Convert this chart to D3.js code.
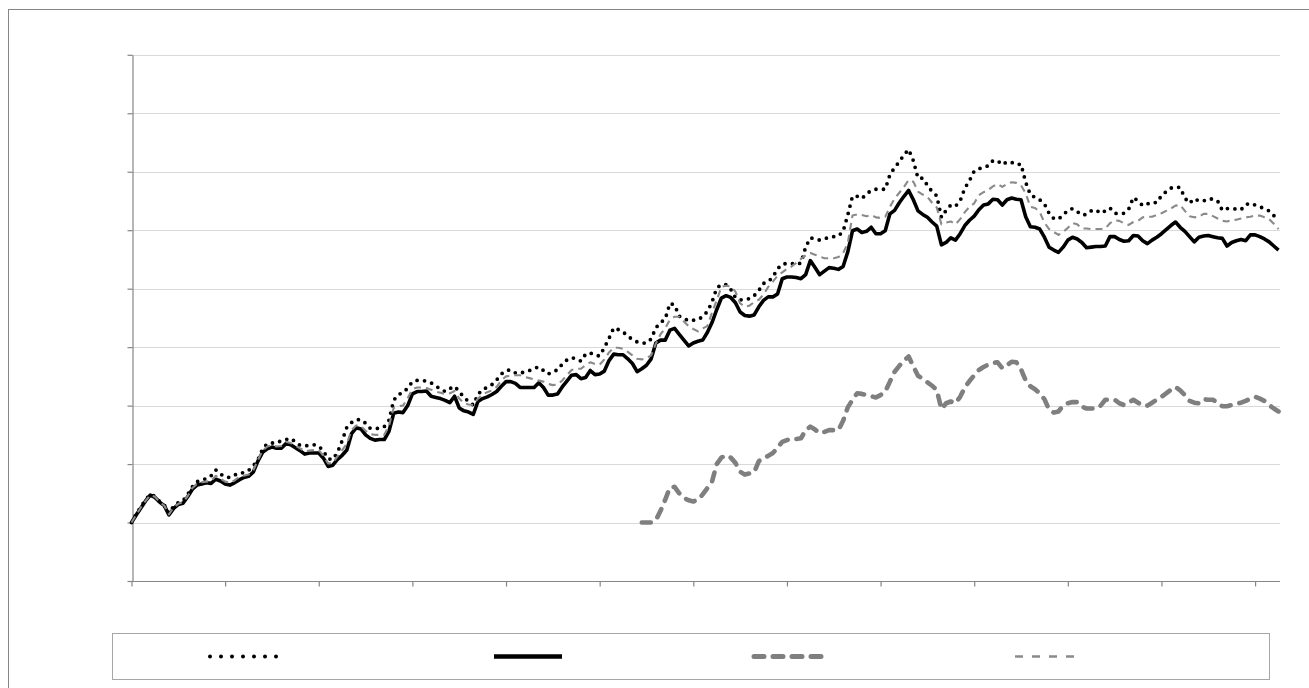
<!DOCTYPE html>
<html>
<head>
<meta charset="utf-8">
<style>
  html, body { margin: 0; padding: 0; background: #fff; overflow: hidden; }
  svg { display: block; }
</style>
</head>
<body>
<div id="chart"></div>
<script src="https://cdn.jsdelivr.net/npm/d3@7/dist/d3.min.js"></script>
<script>
const WIDTH = 1309;
const HEIGHT = 688;

// index values, base 100 at the first period
const highValues = [
  100,114,127,139,148,145,136,130,116,128,
  134,137,148,161,170,173,175,180,190,183,
  178,177,181,185,185,189,197,207,226,235,
  236,236,240,242,244,238,232,231,232,233,
  231,222,209,208,220,240,263,271,276,276,
  270,261,261,261,264,275,309,319,322,330,
  341,343,343,342,339,333,329,324,329,333,
  324,314,307,301,319,328,331,336,344,354,
  360,361,356,355,358,360,364,366,360,354,
  358,361,371,378,382,380,376,388,390,386,
  385,399,415,433,430,426,419,413,409,407,
  407,414,433,442,448,475,472,453,449,445,
  446,447,452,461,477,501,507,507,499,485,
  481,481,483,488,497,509,512,520,534,542,
  543,543,541,544,571,587,585,583,585,588,
  589,590,598,626,658,658,654,662,668,670,
  670,670,695,707,717,729,738,719,689,689,
  677,666,659,622,634,643,641,650,672,685,
  701,705,708,710,719,719,712,717,716,712,
  713,682,661,656,652,645,629,620,619,626,
  634,637,632,626,627,633,635,629,633,638,
  629,628,629,636,656,650,642,645,648,647,
  659,666,672,674,673,655,646,654,650,650,
  654,653,650,634,637,637,636,635,644,646,
  643,640,637,633,625,621
];

const mainValues = [
  100,113,125,137,147,143,135,129,113,124,
  131,133,144,157,164,166,168,167,174,171,
  166,164,168,173,177,179,186,205,220,226,
  229,227,227,235,233,228,223,217,219,219,
  219,210,196,198,208,215,224,252,262,260,
  250,244,241,242,242,256,287,289,288,300,
  320,324,324,325,316,314,312,309,305,316,
  296,291,289,285,307,312,315,319,324,333,
  341,341,338,331,331,331,331,339,331,318,
  318,320,332,342,352,353,346,348,360,353,
  354,359,377,388,387,387,380,372,358,363,
  369,380,407,412,412,429,432,422,412,402,
  407,410,412,425,442,464,484,488,485,476,
  460,454,453,455,469,480,486,486,491,517,
  520,520,519,517,524,548,536,524,530,536,
  535,533,538,563,599,602,596,598,605,594,
  594,599,628,634,647,658,668,652,633,627,
  622,614,607,575,579,587,583,594,608,617,
  624,635,643,645,653,652,643,652,655,653,
  652,623,606,605,602,588,571,566,562,571,
  583,588,585,579,570,571,572,572,573,589,
  589,584,581,582,591,590,582,577,583,588,
  594,601,608,614,605,598,589,580,588,590,
  591,589,587,586,573,579,582,584,582,592,
  592,589,585,580,573,566
];

// second series starts later, at period 109
const launchStart = 109;
const launchValues = [
  100,100,100,
  104,120,139,160,161,150,142,138,
  136,139,148,159,170,200,211,215,211,202,
  187,182,184,186,205,210,214,219,228,238,
  241,244,243,244,258,264,259,253,255,258,
  258,258,274,297,310,321,320,318,316,314,
  318,324,341,358,368,377,384,367,351,346,
  340,334,327,294,304,307,304,315,331,342,
  352,361,366,370,373,374,364,369,375,374,
  362,343,333,328,321,311,293,288,290,300,
  304,306,306,298,295,295,295,300,310,310,
  310,304,301,305,310,305,300,300,305,310,
  315,321,327,332,326,318,308,305,304,311,
  310,310,305,299,299,301,303,305,308,312,
  315,312,308,301,295,290
];

const midValues = [
  100,113,126,137,147,144,135,129,114,126,
  132,135,145,159,166,169,170,171,180,175,
  170,168,172,178,180,182,189,207,223,230,
  232,230,231,238,236,232,227,222,223,224,
  224,214,201,202,213,224,235,258,266,265,
  257,251,250,250,250,266,296,299,300,313,
  328,331,331,330,327,324,322,320,321,325,
  312,304,302,301,312,319,323,326,332,343,
  350,351,352,352,349,347,345,343,341,337,
  335,336,343,352,361,363,363,369,374,371,
  370,379,391,399,399,397,392,386,380,379,
  381,386,406,422,432,447,452,452,444,436,
  431,427,432,436,459,480,503,505,504,495,
  475,469,471,477,481,490,503,512,522,528,
  534,538,544,551,557,561,558,555,552,552,
  552,554,561,578,625,627,626,624,626,622,
  621,623,640,654,664,674,686,683,666,661,
  657,647,639,610,613,615,610,619,631,640,
  646,660,665,669,675,679,674,679,682,681,
  677,663,640,638,631,613,602,597,592,597,
  604,612,610,603,603,602,602,602,603,612,
  617,616,612,609,614,616,622,623,623,626,
  629,633,637,642,643,633,624,622,623,628,
  628,624,620,616,615,617,618,620,622,623,
  625,625,622,619,611,602
];

const periods = d3.range(mainValues.length);
const xTickStep = 20;
const yTicks = [0, 100, 200, 300, 400, 500, 600, 700, 800, 900];

const series = [
  { key: 'high', points: highValues.map((v, i) => [periods[i], v]),
    stroke: '#000', width: 3.8, dash: '0 7.5', cap: 'round',
    legendDash: '0 11', legendWidth: 4 },
  { key: 'main', points: mainValues.map((v, i) => [periods[i], v]),
    stroke: '#000', width: 3.6, dash: null, cap: 'butt',
    legendDash: null, legendWidth: 4.6 },
  { key: 'launch', points: launchValues.map((v, i) => [periods[launchStart + i], v]),
    stroke: '#7f7f7f', width: 4.6, dash: '9 9', cap: 'round',
    legendDash: '10 9', legendWidth: 5 },
  { key: 'mid', points: midValues.map((v, i) => [periods[i], v]),
    stroke: '#8a8a8a', width: 2.1, dash: '7 5', cap: 'butt',
    legendDash: '8 9', legendWidth: 2.4 },
];

const svg = d3.select('#chart').append('svg')
  .attr('width', WIDTH)
  .attr('height', HEIGHT);

svg.append('rect')
  .attr('width', WIDTH)
  .attr('height', HEIGHT)
  .attr('fill', '#fff');

// chart area border, runs past the right and bottom edge
svg.append('rect')
  .attr('x', 8.5)
  .attr('y', 9.5)
  .attr('width', 1400)
  .attr('height', 800)
  .attr('fill', 'none')
  .attr('stroke', '#868686');

const plot = { left: 131.5, right: 1278.5, top: 54.8, bottom: 581 };

const x = d3.scaleLinear()
  .domain([0, periods.length - 1])
  .range([plot.left, plot.right]);

const y = d3.scaleLinear()
  .domain([0, 900])
  .range([plot.bottom, plot.top]);

// gridlines
svg.append('g')
  .selectAll('line')
  .data(yTicks.slice(1))
  .join('line')
  .attr('x1', plot.left)
  .attr('x2', plot.right + 1.5)
  .attr('y1', d => Math.round(y(d)) + 0.5)
  .attr('y2', d => Math.round(y(d)) + 0.5)
  .attr('stroke', '#d9d9d9')
  .attr('stroke-width', 1.2);

const xAxis = svg.append('g')
  .attr('transform', `translate(0,${Math.round(plot.bottom) + 0.5})`)
  .call(d3.axisBottom(x)
    .tickValues(periods.filter(p => p % xTickStep === 0))
    .tickFormat('')
    .tickSize(5)
    .tickSizeOuter(0));

const yAxis = svg.append('g')
  .attr('transform', `translate(${Math.round(plot.left) + 0.5},0)`)
  .call(d3.axisLeft(y)
    .tickValues(yTicks)
    .tickFormat('')
    .tickSize(5)
    .tickSizeOuter(0));

[xAxis, yAxis].forEach(g => {
  g.selectAll('path, line').attr('stroke', '#868686').attr('stroke-width', 1.2);
});
xAxis.select('path.domain').attr('d', `M${plot.left},0H${plot.right + 1.5}`);

const line = d3.line()
  .x(d => x(d[0]))
  .y(d => y(d[1]))
  .curve(d3.curveLinear);

svg.append('g')
  .selectAll('path')
  .data(series)
  .join('path')
  .attr('d', d => line(d.points))
  .attr('fill', 'none')
  .attr('stroke', d => d.stroke)
  .attr('stroke-width', d => d.width)
  .attr('stroke-dasharray', d => d.dash)
  .attr('stroke-linecap', d => d.cap)
  .attr('stroke-linejoin', 'round');

// legend, series names are blank in the source
const legendBox = { x: 112.5, y: 633.5, w: 1157, h: 46 };
const legendCenters = { high: 244, main: 528, launch: 788, mid: 1049 };
const legendSample = 68;

svg.append('rect')
  .attr('x', legendBox.x)
  .attr('y', legendBox.y)
  .attr('width', legendBox.w)
  .attr('height', legendBox.h)
  .attr('fill', '#fff')
  .attr('stroke', '#a6a6a6');

svg.append('g')
  .selectAll('line')
  .data(series)
  .join('line')
  .attr('x1', d => legendCenters[d.key] - legendSample / 2)
  .attr('x2', d => legendCenters[d.key] + legendSample / 2)
  .attr('y1', legendBox.y + legendBox.h / 2)
  .attr('y2', legendBox.y + legendBox.h / 2)
  .attr('stroke', d => d.stroke)
  .attr('stroke-width', d => d.legendWidth)
  .attr('stroke-dasharray', d => d.legendDash)
  .attr('stroke-linecap', d => d.cap);
</script>
</body>
</html>
